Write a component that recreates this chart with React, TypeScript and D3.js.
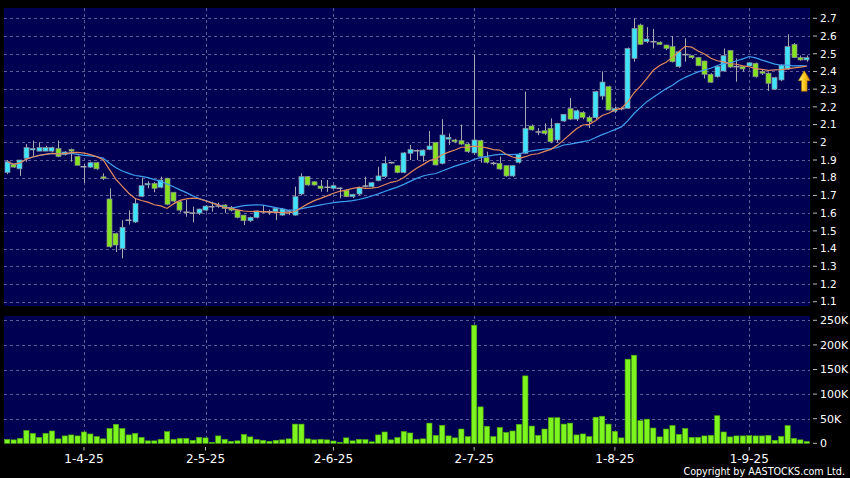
import * as d3 from 'd3';
import React from 'react';

// daily OHLC, 14-Mar-25 .. 12-Sep-25
const opens = [
  1.83, 1.875, 1.85, 1.91, 1.96, 1.95, 1.95, 1.95, 1.965, 1.93,
  1.96, 1.92, 1.862, 1.86, 1.885, 1.805, 1.68, 1.485, 1.4, 1.56,
  1.55, 1.695, 1.76, 1.768, 1.746, 1.797, 1.718, 1.664, 1.605, 1.6,
  1.6, 1.617, 1.636, 1.64, 1.646, 1.633, 1.617, 1.589, 1.557, 1.576,
  1.608, 1.608, 1.608, 1.589, 1.612, 1.589, 1.708, 1.806, 1.777, 1.753,
  1.746, 1.74, 1.74, 1.73, 1.693, 1.708, 1.753, 1.749, 1.783, 1.806,
  1.885, 1.868, 1.83, 1.938, 1.952, 1.924, 1.96, 2.0, 1.881, 2.018,
  2.013, 2.009, 1.99, 1.94, 2.01, 1.913, 1.881, 1.881, 1.868, 1.81,
  1.887, 1.938, 2.092, 2.058, 2.065, 2.079, 2.013, 2.12, 2.19, 2.131,
  2.169, 2.141, 2.139, 2.261, 2.314, 2.175, 2.19, 2.192, 2.474, 2.662,
  2.568, 2.568, 2.565, 2.549, 2.54, 2.427, 2.495, 2.489, 2.478, 2.459,
  2.384, 2.37, 2.402, 2.519, 2.427, 2.427, 2.431, 2.446, 2.4, 2.39,
  2.3, 2.352, 2.414, 2.553, 2.478, 2.465,
];
const highs = [
  1.9, 1.88, 1.9, 1.99, 2.01, 2.0, 1.98, 1.975, 2.01, 1.95,
  1.965, 1.925, 1.88, 1.89, 1.89, 1.825, 1.74, 1.49, 1.56, 1.615,
  1.685, 1.8, 1.78, 1.775, 1.806, 1.8, 1.72, 1.67, 1.675, 1.636,
  1.625, 1.645, 1.664, 1.66, 1.65, 1.64, 1.62, 1.59, 1.58, 1.615,
  1.646, 1.62, 1.63, 1.63, 1.62, 1.75, 1.825, 1.81, 1.78, 1.787,
  1.787, 1.76, 1.745, 1.735, 1.71, 1.75, 1.806, 1.775, 1.862, 1.92,
  1.89, 1.87, 1.945, 1.985, 1.96, 1.96, 2.064, 2.0, 2.13, 2.05,
  2.02, 2.1, 1.995, 2.493, 2.015, 1.947, 1.89, 1.92, 1.87, 1.87,
  1.94, 2.286, 2.1, 2.08, 2.107, 2.135, 2.11, 2.16, 2.25, 2.185,
  2.175, 2.15, 2.29, 2.4, 2.32, 2.2, 2.2, 2.535, 2.7, 2.67,
  2.65, 2.64, 2.57, 2.55, 2.6, 2.515, 2.587, 2.49, 2.48, 2.46,
  2.39, 2.43, 2.53, 2.52, 2.474, 2.43, 2.45, 2.45, 2.41, 2.395,
  2.37, 2.44, 2.61, 2.56, 2.49, 2.49,
];
const lows = [
  1.82, 1.855, 1.81, 1.89, 1.92, 1.95, 1.95, 1.945, 1.915, 1.925,
  1.89, 1.87, 1.77, 1.855, 1.845, 1.787, 1.405, 1.38, 1.345, 1.535,
  1.545, 1.69, 1.74, 1.718, 1.74, 1.645, 1.66, 1.604, 1.58, 1.548,
  1.59, 1.61, 1.608, 1.63, 1.6, 1.61, 1.57, 1.533, 1.55, 1.57,
  1.6, 1.59, 1.56, 1.585, 1.589, 1.585, 1.7, 1.755, 1.755, 1.721,
  1.72, 1.735, 1.684, 1.69, 1.685, 1.7, 1.745, 1.745, 1.78, 1.8,
  1.88, 1.825, 1.825, 1.9, 1.9, 1.89, 1.955, 1.87, 1.875, 1.985,
  1.995, 1.985, 1.94, 1.93, 1.885, 1.88, 1.87, 1.845, 1.805, 1.805,
  1.88, 1.935, 2.065, 2.04, 2.04, 1.995, 2.0, 2.115, 2.125, 2.12,
  2.13, 2.08, 2.13, 2.24, 2.18, 2.165, 2.18, 2.19, 2.455, 2.55,
  2.56, 2.53, 2.55, 2.52, 2.45, 2.42, 2.455, 2.47, 2.43, 2.36,
  2.335, 2.365, 2.4, 2.42, 2.342, 2.4, 2.425, 2.365, 2.38, 2.29,
  2.295, 2.345, 2.41, 2.475, 2.46, 2.455,
];
const closes = [
  1.89, 1.86, 1.9, 1.97, 1.965, 1.97, 1.97, 1.97, 1.92, 1.945,
  1.95, 1.87, 1.862, 1.885, 1.85, 1.797, 1.41, 1.42, 1.52, 1.56,
  1.655, 1.755, 1.768, 1.74, 1.787, 1.65, 1.668, 1.617, 1.605, 1.6,
  1.623, 1.64, 1.636, 1.64, 1.627, 1.617, 1.576, 1.557, 1.576, 1.612,
  1.608, 1.608, 1.627, 1.623, 1.612, 1.693, 1.806, 1.759, 1.759, 1.74,
  1.746, 1.755, 1.74, 1.693, 1.706, 1.746, 1.753, 1.772, 1.81, 1.881,
  1.885, 1.83, 1.94, 1.96, 1.952, 1.956, 1.979, 1.872, 2.041, 2.028,
  2.003, 1.99, 1.947, 2.013, 1.92, 1.887, 1.881, 1.849, 1.81, 1.868,
  1.932, 2.079, 2.07, 2.058, 2.05, 2.003, 2.107, 2.158, 2.131, 2.178,
  2.141, 2.116, 2.286, 2.34, 2.182, 2.19, 2.19, 2.53, 2.643, 2.553,
  2.583, 2.568, 2.553, 2.53, 2.455, 2.511, 2.495, 2.478, 2.432, 2.384,
  2.339, 2.427, 2.489, 2.425, 2.427, 2.414, 2.449, 2.37, 2.39, 2.333,
  2.365, 2.436, 2.54, 2.478, 2.465, 2.478,
];
// volume in thousands of shares
const volumes = [
  8, 7, 10, 26, 20, 12, 20, 25, 9, 15, 17, 15, 23, 19, 13.5, 9, 30, 38.6, 30, 17,
  20, 12, 5, 5, 8, 23.6, 8, 10, 10, 6, 12, 11, 2, 15, 8, 4, 5, 18, 13, 7.5,
  6, 4, 6, 7, 9, 39, 39, 9, 7, 8, 7, 4.7, 2, 11, 5, 8, 7.5, 3, 17, 23,
  7, 11.5, 24, 21, 8, 9, 41, 16, 36.5, 15, 11, 29, 13.5, 240, 74, 34.5, 13.5, 32, 22, 25,
  38.6, 137, 35, 16, 29, 52, 52, 39, 41, 17, 19, 13.5, 53, 55, 39, 24, 11, 171, 179, 46,
  49, 31, 13, 29, 36, 18, 30, 12, 12, 15, 16, 56, 23, 13, 15, 15, 15.5, 15, 15, 16,
  6, 14, 36, 10, 7, 3.5,
];

const priceTicks = [1.1, 1.2, 1.3, 1.4, 1.5, 1.6, 1.7, 1.8, 1.9, 2, 2.1, 2.2, 2.3, 2.4, 2.5, 2.6, 2.7];
const volumeTicks = [0, 50, 100, 150, 200, 250];
const dateTicks = [
  { index: 12, label: '1-4-25' },
  { index: 31, label: '2-5-25' },
  { index: 51, label: '2-6-25' },
  { index: 73, label: '2-7-25' },
  { index: 95, label: '1-8-25' },
  { index: 116, label: '1-9-25' },
];

const W = 850;
const H = 478;
const left = 4;
const right = 810;
const priceTop = 8;
const priceBottom = 306;
const volTop = 316;
const volBottom = 443.5;

const NAVY = '#000052';
const GRID = '#5c5c96';
const UP = '#3ee4ff';
const DOWN = '#84e21e';
const WICK = '#a8a8b0';
const font = 'DejaVu Sans, sans-serif';

function sma(values: number[], period: number) {
  return values.map((_, i) => d3.mean(values.slice(Math.max(0, i - period + 1), i + 1)) as number);
}

export default function App() {
  const n = closes.length;
  const x = d3.scaleBand<number>().domain(d3.range(n)).range([left, right]);
  const bw = x.bandwidth();
  const cx = (i: number) => (x(i) as number) + bw / 2;
  const y = d3.scaleLinear().domain([1.1, 2.7]).range([301.7, 18.3]);
  const yv = d3.scaleLinear().domain([0, 250]).range([443.3, 320.3]);

  const ma10 = sma(closes, 10);
  const ma20 = sma(closes, 20);
  const line = d3
    .line<number>()
    .x((_, i) => cx(i))
    .y(d => y(d));

  const lastX = cx(n - 1) - 2.5;
  const tipY = y(lows[n - 1]) + 9;

  return (
    <svg
      width={W}
      height={H}
      style={{ position: 'absolute', left: 0, top: 0, background: '#000' }}
      fontFamily={font}
    >
      <defs>
        <linearGradient id="arrowGrad" x1="0" x2="1" y1="0" y2="0">
          <stop offset="0" stopColor="#fff0a0" />
          <stop offset="0.45" stopColor="#ffcc22" />
          <stop offset="1" stopColor="#d89200" />
        </linearGradient>
        <clipPath id="priceClip">
          <rect x={left} y={priceTop} width={right - left} height={priceBottom - priceTop} />
        </clipPath>
      </defs>

      <rect x={0} y={0} width={W} height={H} fill="#000" />
      <rect x={left} y={priceTop} width={right - left} height={priceBottom - priceTop} fill={NAVY} />
      <rect x={left} y={volTop} width={right - left} height={volBottom - volTop} fill={NAVY} />

      {/* grid */}
      {priceTicks.map(t => (
        <line
          key={'pg' + t}
          x1={left}
          x2={right}
          y1={Math.round(y(t)) + 0.5}
          y2={Math.round(y(t)) + 0.5}
          stroke={GRID}
          strokeDasharray="3,3"
        />
      ))}
      {volumeTicks
        .filter(t => t > 0)
        .map(t => (
          <line
            key={'vg' + t}
            x1={left}
            x2={right}
            y1={Math.round(yv(t)) + 0.5}
            y2={Math.round(yv(t)) + 0.5}
            stroke={GRID}
            strokeDasharray="3,3"
          />
        ))}
      {dateTicks.map(d => {
        const gx = Math.round(cx(d.index)) + 0.5;
        return (
          <g key={'dg' + d.label}>
            <line x1={gx} x2={gx} y1={priceTop} y2={priceBottom} stroke={GRID} strokeDasharray="3,3" />
            <line x1={gx} x2={gx} y1={volTop} y2={volBottom} stroke={GRID} strokeDasharray="3,3" />
          </g>
        );
      })}

      {/* candles */}
      <g clipPath="url(#priceClip)">
        {closes.map((c, i) => {
          const o = opens[i];
          const px = Math.round(cx(i)) + 0.5;
          const top = y(Math.max(o, c));
          const bot = y(Math.min(o, c));
          const bodyX = Math.round(cx(i) - 2.5);
          return (
            <g key={'c' + i}>
              <line x1={px} x2={px} y1={y(highs[i])} y2={y(lows[i])} stroke={WICK} strokeWidth={1} />
              {c === o ? (
                <line x1={bodyX - 0.5} x2={bodyX + 5.5} y1={top} y2={top} stroke={WICK} strokeWidth={1.5} />
              ) : (
                <rect
                  x={bodyX}
                  y={top}
                  width={5}
                  height={Math.max(1.5, bot - top)}
                  fill={c > o ? UP : DOWN}
                  stroke="#8c8c96"
                  strokeWidth={0.7}
                />
              )}
            </g>
          );
        })}
        <path d={line(ma20) ?? ''} fill="none" stroke="#3d9ff0" strokeWidth={1.2} />
        <path d={line(ma10) ?? ''} fill="none" stroke="#e28a5c" strokeWidth={1.2} />
      </g>

      {/* arrow pointing at last price */}
      <path
        d={`M${lastX},${tipY} l6,10 h-3.2 v10.5 h-5.6 v-10.5 h-3.2 Z`}
        fill="url(#arrowGrad)"
        stroke="#a86f00"
        strokeWidth={0.6}
      />

      {/* volume */}
      {volumes.map((v, i) => (
        <rect
          key={'v' + i}
          x={(x(i) as number) + 0.6}
          y={yv(v)}
          width={bw - 1.2}
          height={yv(0) - yv(v)}
          fill="#7df41e"
          stroke="#4fae0c"
          strokeWidth={0.6}
        />
      ))}

      {/* right axes */}
      {priceTicks.map(t => (
        <g key={'pt' + t} transform={`translate(0,${y(t)})`}>
          <line x1={813} x2={817} stroke="#bbb" />
          <text x={820} dy="0.36em" fill="#fff" fontSize={10.5}>
            {d3.format('~g')(t)}
          </text>
        </g>
      ))}
      {volumeTicks.map(t => (
        <g key={'vt' + t} transform={`translate(0,${yv(t)})`}>
          <line x1={813} x2={817} stroke="#bbb" />
          <text x={820} dy="0.36em" fill="#fff" fontSize={11}>
            {t === 0 ? '0' : `${t}K`}
          </text>
        </g>
      ))}

      {/* date axis */}
      {dateTicks.map(d => (
        <g key={'dt' + d.label} transform={`translate(${cx(d.index)},0)`}>
          <line x1={0} x2={0} y1={447} y2={450.5} stroke="#bbb" />
          <text y={463} textAnchor="middle" fill="#fff" fontSize={12}>
            {d.label}
          </text>
        </g>
      ))}

      <text x={845} y={475} textAnchor="end" fill="#fff" fontSize={9.6}>
        Copyright by AASTOCKS.com Ltd.
      </text>
    </svg>
  );
}
